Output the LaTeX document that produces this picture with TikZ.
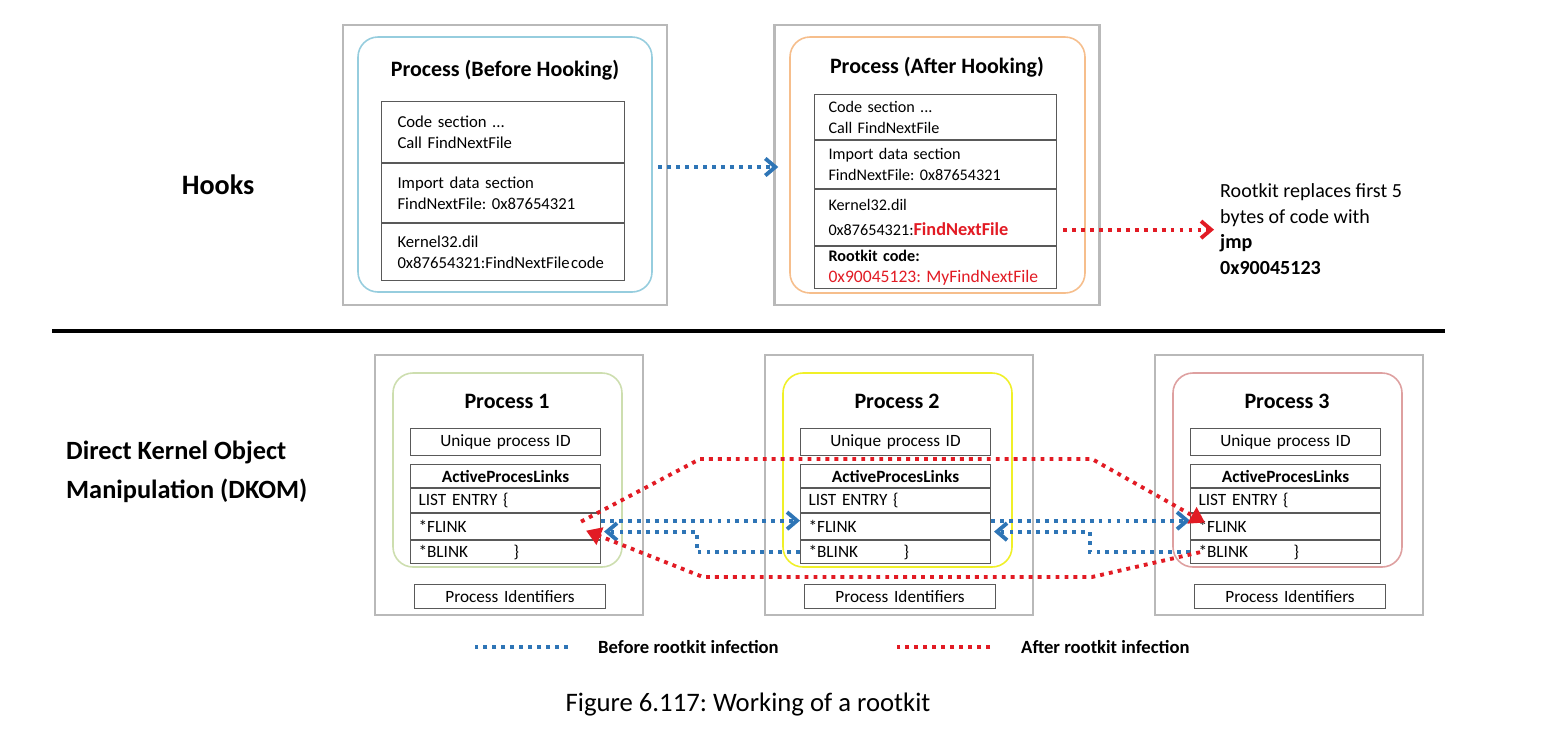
\documentclass[tikz,border=0pt]{standalone}
\usepackage{fontspec}
\setmainfont{Carlito}
\frenchspacing
\usetikzlibrary{positioning,arrows.meta,calc}

\definecolor{dotblue}{RGB}{46,117,182}
\definecolor{dotred}{RGB}{226,27,36}
\definecolor{frameblue}{RGB}{150,205,222}
\definecolor{frameorange}{RGB}{246,190,140}
\definecolor{framegreen}{RGB}{205,222,175}
\definecolor{frameyellow}{RGB}{240,240,40}
\definecolor{framepink}{RGB}{222,160,160}

\tikzset{
  shadowbox/.style={draw=gray!55, line width=1.4pt, fill=white},
  roundbox/.style={line width=0.9pt, rounded corners=4mm},
  hookcell/.style={draw=gray!70!black, line width=0.6pt, fill=white,
    inner ysep=0pt, inner xsep=3.2mm, text width=42.2mm, align=left,
    font=\fontsize{9.5}{12}\selectfont},
  hookcelltwo/.style={hookcell, inner xsep=2.8mm, text width=42.8mm,
    font=\fontsize{9.2}{12}\selectfont},
  dkcell/.style={draw=gray!70!black, line width=0.6pt, fill=white,
    inner ysep=0pt, inner xsep=1.6mm, text width=34.8mm, align=left,
    minimum height=4.8mm, font=\fontsize{9.8}{11}\selectfont},
  title/.style={font=\bfseries\fontsize{12.5}{14}\selectfont},
  bluedot/.style={draw=dotblue, line width=2.2pt, dash pattern=on 2.2pt off 2.9pt},
  reddot/.style={draw=dotred, line width=2.2pt, dash pattern=on 2.2pt off 2.9pt},
  barb/.style={-{Straight Barb[length=2mm, width=3.4mm]}},
  tri/.style={-{Triangle[length=3mm, width=3.6mm]}}
}

\begin{document}
\begin{tikzpicture}[x=0.2mm, y=-0.2mm]
  \useasboundingbox (0,0) rectangle (1566,738);

  % hooks, before
  \node[shadowbox, minimum width=64.8mm, minimum height=56mm] (hb) at (505,165) {};
  \draw[roundbox, frameblue] (358,37) rectangle (652,292);
  \node[title] (tb) at (505,70) {Process (Before Hooking)};
  \node[hookcell, minimum height=12.2mm, anchor=north west] (c1) at (381,101)
    {Code section ...\\Call FindNextFile};
  \node[hookcell, minimum height=11.8mm, below=0pt of c1] (i1)
    {Import data section\\FindNextFile: 0x87654321};
  \node[hookcell, minimum height=11.4mm, below=0pt of i1] (k1)
    {Kernel32.dil\\\mbox{0x87654321:FindNextFile\hspace{0.8pt}code}};

  % hooks, after
  \node[shadowbox, minimum width=65mm, minimum height=56mm] (ha) at (937,165) {};
  \draw[roundbox, frameorange] (790,37) rectangle (1085,293);
  \node[title] (ta) at (937,67) {Process (After Hooking)};
  \node[hookcelltwo, minimum height=9mm, anchor=north west] (c2) at (814,94)
    {Code section ...\\Call FindNextFile};
  \node[hookcelltwo, minimum height=9.6mm, below=0pt of c2] (i2)
    {Import data section\\FindNextFile: 0x87654321};
  \node[hookcelltwo, minimum height=11.2mm, below=0pt of i2] (k2)
    {Kernel32.dil\\[2pt]0x87654321:{\color{dotred}\bfseries\fontsize{10.4}{12}\selectfont FindNextFile}};
  \node[hookcelltwo, minimum height=8.4mm, below=0pt of k2] (r2)
    {\textbf{Rootkit code:}\\{\color{dotred}\fontsize{10}{12}\selectfont 0x90045123: MyFindNextFile}};

  \node[anchor=west, align=left, font=\fontsize{11.4}{14.5}\selectfont] (note) at (1214,229)
    {Rootkit replaces first 5\\bytes of code with\\\textbf{jmp}\\\textbf{0x90045123}};
  \node[font=\bfseries\fontsize{16}{18}\selectfont] (hooks) at (218,185) {Hooks};

  \draw[bluedot, barb] ([xshift=-2mm, yshift=-0.4mm]hb.east) -- ([xshift=1mm, yshift=-0.4mm]ha.west);
  \draw[reddot, barb] ([xshift=1.2mm, yshift=-2.4mm]k2.east) -- ([yshift=-2.4mm]k2.east -| note.west);

  \draw[line width=2.2pt] (52,331) -- (1445,331);

  % dkom
  \node[anchor=west, align=left, font=\bfseries\fontsize{15}{22.5}\selectfont] (dkom) at (60,472)
    {Direct Kernel Object\\Manipulation (DKOM)};

  \foreach \n/\x/\col in {1/375/framegreen, 2/765/frameyellow, 3/1155/framepink} {
    \draw[shadowbox] (\x,355) rectangle ({\x+268},615);
    \draw[roundbox, \col] ({\x+18},373) rectangle ({\x+247},567);
    \node[title] (p\n) at ({\x+132},401) {Process \n};
    \node[dkcell, align=center, minimum height=5.4mm, anchor=north west] (uid\n) at ({\x+35},428) {Unique process ID};
    \node[dkcell, align=center, minimum height=4.6mm, anchor=north west] (apl\n) at ({\x+35},464) {\textbf{ActiveProcesLinks}};
    \node[dkcell, below=0pt of apl\n] (le\n) {LIST ENTRY \{};
    \node[dkcell, minimum height=5.2mm, below=0pt of le\n] (fl\n) {*FLINK};
    \node[dkcell, minimum height=4.6mm, below=0pt of fl\n] (bl\n) {\makebox[19mm][l]{*BLINK}\}};
    \node[dkcell, align=center, text width=35mm, anchor=north west] (pid\n) at ({\x+39},584) {Process Identifiers};
  }

  % before infection
  \draw[bluedot, barb] ([yshift=1.2mm]fl1.east) -- ([yshift=1.2mm]fl2.west);
  \draw[bluedot, barb] (bl2.west) -- ++(-103,0) |- ([xshift=0.6mm, yshift=-1mm]fl1.east);
  \draw[bluedot, barb] ([yshift=1.2mm]fl2.east) -- ([yshift=1.2mm]fl3.west);
  \draw[bluedot, barb] (bl3.west) -- ++(-100,0) |- ([xshift=0.6mm, yshift=-1mm]fl2.east);

  % after infection
  \draw[reddot, tri] ([xshift=-4mm, yshift=1mm]fl1.east) -- (700,459) -- (1092,459)
    -- ([xshift=3mm, yshift=0.8mm]fl3.west);
  \draw[reddot, tri] ([xshift=2mm]bl3.west) -- (1092,577) -- (703,577)
    -- ([xshift=-3mm, yshift=-0.8mm]fl1.east);

  % legend
  \node[anchor=west, font=\bfseries\fontsize{10.6}{12}\selectfont] (lgb) at (592,647) {Before rootkit infection};
  \draw[bluedot] ([xshift=-4.8mm]lgb.west) -- ++(-95,0);
  \node[anchor=west, font=\bfseries\fontsize{10.6}{12}\selectfont] (lga) at (1015,647) {After rootkit infection};
  \draw[reddot] ([xshift=-5mm]lga.west) -- ++(-95,0);

  \node[font=\fontsize{15.2}{18}\selectfont] (cap) at (748,705) {Figure 6.117: Working of a rootkit};
\end{tikzpicture}
\end{document}
